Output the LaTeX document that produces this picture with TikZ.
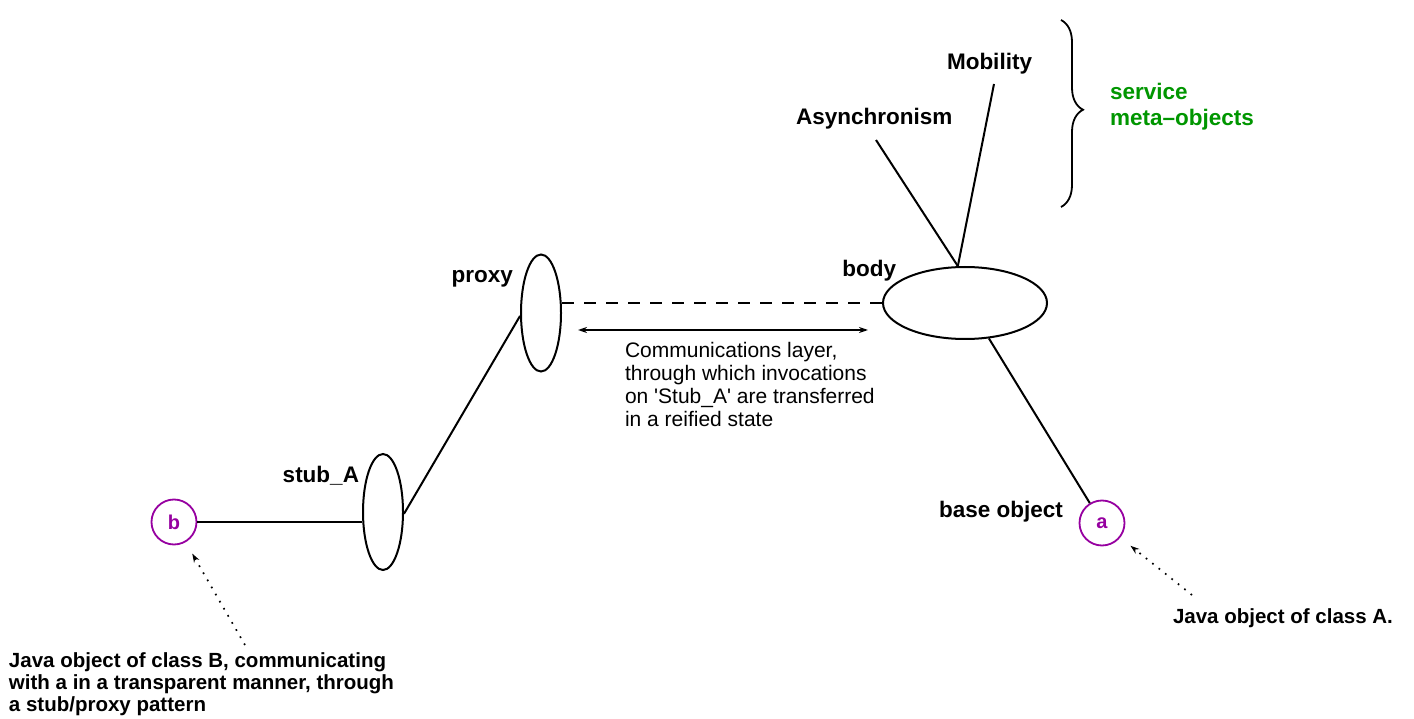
\documentclass[tikz,border=0pt]{standalone}
\usepackage{fontspec}
\setmainfont{Liberation Sans}
\usetikzlibrary{shapes.geometric,arrows.meta,decorations.pathreplacing,calc}
\definecolor{objpurple}{RGB}{150,0,160}
\definecolor{metagreen}{RGB}{0,150,0}
\begin{document}
\begin{tikzpicture}[x=1pt,y=-1pt,
  line width=2pt,
  oval/.style={draw,ellipse,inner sep=0pt,line width=2pt},
  javaobj/.style={draw=objpurple,circle,minimum size=45pt,inner sep=0pt,line width=1.8pt,
    text=objpurple,font=\fontsize{20}{22}\selectfont\bfseries},
  lbl/.style={inner sep=0pt,font=\fontsize{22.5}{26}\selectfont\bfseries},
  note/.style={inner sep=0pt,align=left,font=\fontsize{20.5}{22}\selectfont\bfseries},
  commtext/.style={inner sep=0pt,align=left,font=\fontsize{21}{23}\selectfont},
  dotarrow/.style={line width=1.7pt,dash pattern=on 1.7pt off 6.5pt,-{Stealth[length=9pt,width=6pt]}},
  link/.style={line width=2pt}]
\useasboundingbox (0,0) rectangle (1414,719);

% objects
\node[javaobj] (b) at (174,522) {b};
\node[javaobj] (a) at (1102,523) {a};
\node[oval,minimum width=40pt,minimum height=116pt] (stub) at (383,512) {};
\node[oval,minimum width=40pt,minimum height=117pt] (proxy) at (541,313) {};
\node[oval,minimum width=164pt,minimum height=72pt] (body) at (965,303) {};

% labels
\node[lbl,anchor=base east] (stublbl) at (360,482) {stub\_A};
\node[lbl,anchor=base east] (proxylbl) at (514,283) {proxy};
\node[lbl,anchor=base east] (bodylbl) at (897,277) {body};
\node[lbl,anchor=base west] (async) at (795,125) {Asynchronism};
\node[lbl,anchor=base west] (mob) at (946,70) {Mobility};
\node[lbl,anchor=base west] (baselbl) at (938,517) {base object};
\node[lbl,anchor=base west,align=left,text=metagreen,
      font=\fontsize{22.5}{26}\selectfont\bfseries] (meta) at (1109,126)
  {service\\meta\textendash objects};

% notes (multi-line nodes are placed by the baseline of their last line)
\node[note,anchor=base west] (noteA) at (1172,623) {Java object of class A.};
\node[note,anchor=base west] (noteB) at (8,711)
  {Java object of class B, communicating\\with a in a transparent manner, through\\a stub/proxy pattern};
\node[commtext,anchor=base west] (comm) at (624,426)
  {Communications layer,\\through which invocations\\on \textquotesingle Stub\_A\textquotesingle{} are transferred\\in a reified state};

% connectors between objects
\draw[link] (b.east) -- (b.east -| stub.west);
\draw[link] (stub.-5) -- (proxy.188);
\draw[link,dash pattern=on 12pt off 10pt] (body.west -| proxy.east) -- (body.west);
\draw[link] (body.-56) -- (a);

% service meta-objects attached to the body
\coordinate (asyncend) at (876,140);
\coordinate (mobend) at (994,84);
\draw[link] (body.101) -- (asyncend);
\draw[link] (body.101) -- (mobend);
\draw[line width=1.8pt,decorate,decoration={brace,amplitude=22pt,aspect=0.48}]
  (1061,20) -- (1061,207);

% communications layer arrow
\coordinate (commL) at (578,330);
\coordinate (commR) at (868,330);
\draw[line width=1.5pt,{Stealth[length=9pt,width=6pt]}-{Stealth[length=9pt,width=6pt]}] (commL) -- (commR);

% dotted pointers from the notes
\coordinate (btail) at (245,645);
\coordinate (atail) at (1192,595);
\draw[dotarrow,shorten >=13pt] (btail) -- (b);
\draw[dotarrow,shorten >=13pt] (atail) -- (a);
\end{tikzpicture}
\end{document}
